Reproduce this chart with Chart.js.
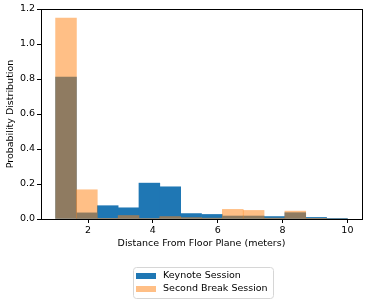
<!DOCTYPE html>
<html>
<head>
<meta charset="utf-8">
<script src="https://cdn.jsdelivr.net/npm/chart.js@4/dist/chart.umd.min.js"></script>
<style>
  html, body { margin: 0; padding: 0; background: #fff; }
  #wrap { position: relative; width: 374px; height: 305px; }
</style>
</head>
<body>
<div id="wrap"><canvas id="hist"></canvas></div>
<script>
// histogram bins, 14 equal bins from 1 m to 10 m
var binEdges = [1.0, 1.643, 2.286, 2.929, 3.571, 4.214, 4.857, 5.5, 6.143, 6.786, 7.429, 8.071, 8.714, 9.357, 10.0];
var keynote = [0.811, 0.035, 0.076, 0.064, 0.205, 0.184, 0.031, 0.026, 0.017, 0.017, 0.014, 0.036, 0.009, 0.001];
var secondBreak = [1.148, 0.167, 0.002, 0.020, 0.003, 0.014, 0.008, 0.005, 0.055, 0.049, 0.005, 0.045, 0.001, 0.0];
var xTicks = [2, 4, 6, 8, 10];
var seriesNames = ["Keynote Session", "Second Break Session"];

var FONT = "'DejaVu Sans', sans-serif";
var FONT_SIZE = 9.5;
var BLUE = "rgb(31, 119, 180)";
var ORANGE = "rgba(255, 127, 14, 0.5)";

function toPoints(values) {
    return values.map(function (v, i) {
        return { x: (binEdges[i] + binEdges[i + 1]) / 2, y: v };
    });
}

// matplotlib-like box around the axes
var frame = {
    id: "frame",
    afterDatasetsDraw: function (chart) {
        var a = chart.chartArea, ctx = chart.ctx;
        ctx.save();
        ctx.strokeStyle = "#000";
        ctx.lineWidth = 1;
        ctx.strokeRect(Math.round(a.left) + 0.5, Math.round(a.top) + 0.5,
            Math.round(a.right - a.left), Math.round(a.bottom - a.top));
        ctx.restore();
    }
};

// boxed legend below the plot, one entry per row
var boxLegend = {
    id: "boxLegend",
    afterDraw: function (chart) {
        var ctx = chart.ctx;
        var x = 133, y = 267, w = 140, h = 31, r = 3;
        ctx.save();
        ctx.strokeStyle = "#d6d6d6";
        ctx.lineWidth = 1;
        ctx.beginPath();
        ctx.roundRect(x + 0.5, y + 0.5, w, h, r);
        ctx.stroke();
        ctx.font = FONT_SIZE + "px " + FONT;
        ctx.textBaseline = "middle";
        chart.data.datasets.forEach(function (ds, i) {
            var cy = y + 9 + i * 13;
            ctx.fillStyle = ds.backgroundColor;
            ctx.fillRect(x + 3, cy - 3, 20, 6);
            ctx.fillStyle = "#000";
            ctx.fillText(ds.label, x + 30, cy);
        });
        ctx.restore();
    }
};

new Chart(document.getElementById("hist"), {
    type: "bar",
    data: {
        datasets: [
            {
                label: seriesNames[0],
                data: toPoints(keynote),
                backgroundColor: BLUE,
                order: 2
            },
            {
                label: seriesNames[1],
                data: toPoints(secondBreak),
                backgroundColor: ORANGE,
                order: 1
            }
        ]
    },
    options: {
        responsive: true,
        maintainAspectRatio: false,
        animation: false,
        grouped: false,
        barPercentage: 1,
        categoryPercentage: 1,
        borderWidth: 0,
        layout: { padding: { top: 9, right: 12, bottom: 56, left: 2 } },
        plugins: {
            legend: { display: false },
            tooltip: { enabled: false }
        },
        scales: {
            x: {
                type: "linear",
                min: 0.55,
                max: 10.45,
                offset: false,
                afterBuildTicks: function (scale) {
                    scale.ticks = xTicks.map(function (v) { return { value: v }; });
                },
                afterFit: function (scale) { scale.height = 30; },
                grid: { offset: false, drawOnChartArea: false, tickLength: 4, tickColor: "#000" },
                border: { display: false },
                ticks: {
                    color: "#000",
                    font: { family: FONT, size: FONT_SIZE },
                    padding: 2,
                    maxRotation: 0
                },
                title: {
                    display: true,
                    text: "Distance From Floor Plane (meters)",
                    color: "#000",
                    font: { family: FONT, size: FONT_SIZE },
                    padding: { top: 1, bottom: 0 }
                }
            },
            y: {
                min: 0,
                max: 1.2,
                afterFit: function (scale) { scale.width = 39; },
                grid: { drawOnChartArea: false, tickLength: 4, tickColor: "#000" },
                border: { display: false },
                ticks: {
                    stepSize: 0.2,
                    color: "#000",
                    font: { family: FONT, size: FONT_SIZE },
                    padding: 2,
                    callback: function (v) { return v.toFixed(1); }
                },
                title: {
                    display: true,
                    text: "Probability Distribution",
                    color: "#000",
                    font: { family: FONT, size: FONT_SIZE },
                    padding: { top: 3, bottom: 0 }
                }
            }
        }
    },
    plugins: [frame, boxLegend]
});
</script>
</body>
</html>
